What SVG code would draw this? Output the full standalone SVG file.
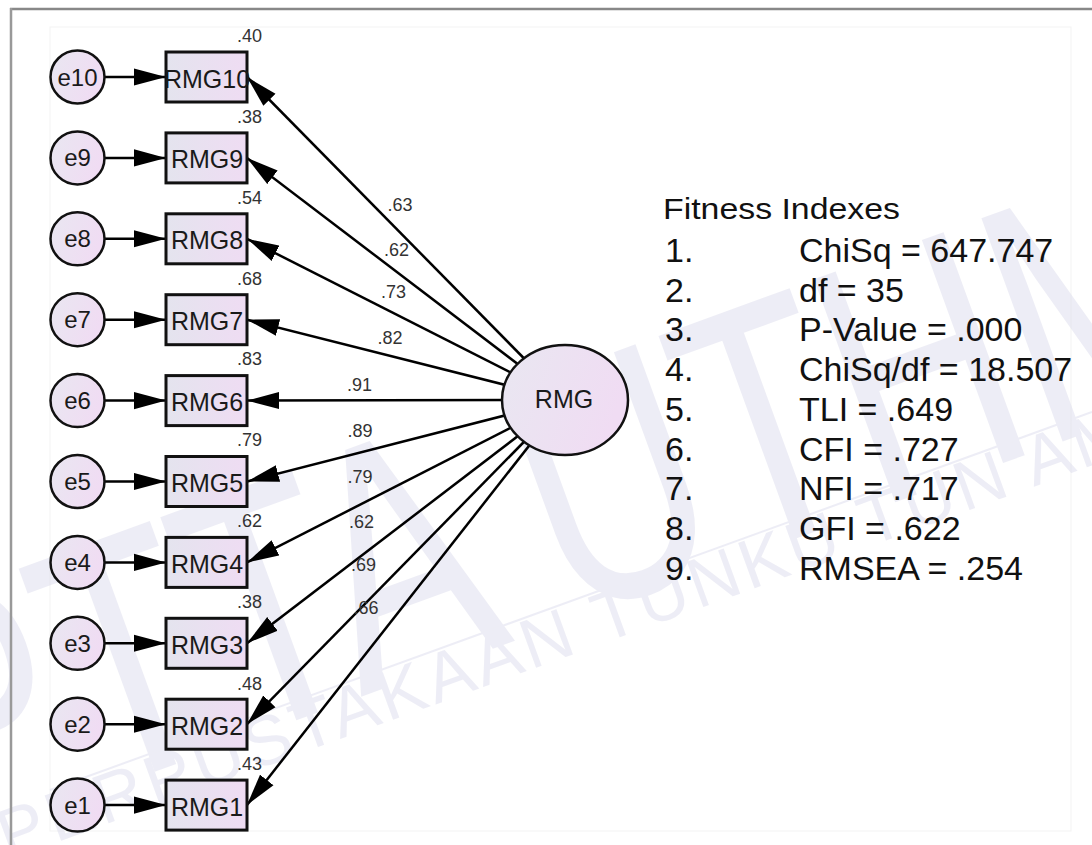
<svg xmlns="http://www.w3.org/2000/svg" width="1092" height="845" viewBox="0 0 1092 845">
<defs>
<linearGradient id="gBox" x1="0" y1="0" x2="1" y2="0">
<stop offset="0" stop-color="#e4e4ee"/>
<stop offset="1" stop-color="#efdcf3"/>
</linearGradient>
<linearGradient id="gCirc" x1="0" y1="0" x2="1" y2="0.3">
<stop offset="0" stop-color="#e9e7f1"/>
<stop offset="1" stop-color="#f0dcf3"/>
</linearGradient>
<marker id="ah" markerUnits="userSpaceOnUse" markerWidth="32" markerHeight="18" viewBox="0 0 30 16" refX="30" refY="8" orient="auto">
<path d="M0,0 L30,8 L0,16 Z" fill="#000"/>
</marker>
<style>
.wm{font-family:"Liberation Sans",Arial,sans-serif;fill:#d6d6ea;}
.box{fill:url(#gBox);stroke:#111;stroke-width:3;}
.circ{fill:url(#gCirc);stroke:#111;stroke-width:2.5;}
.lbl{font-family:"Liberation Sans",Arial,sans-serif;fill:#1a1a1a;text-anchor:middle;}
.num{font-family:"Liberation Sans",Arial,sans-serif;font-size:18px;fill:#333;}
.con line{stroke:#000;stroke-width:2.5;marker-end:url(#ah);}
.fit{font-family:"Liberation Sans",Arial,sans-serif;fill:#111;}
</style>
</defs>
<rect x="0" y="0" width="1092" height="845" fill="#fff"/>
<rect x="50" y="27" width="1021" height="804" fill="none" stroke="#f3f3f3" stroke-width="1"/>
<g id="watermark" opacity="0.42">
<text class="wm" font-size="230" transform="translate(-60,850) rotate(-20) scale(1,1.5)" textLength="1380" lengthAdjust="spacingAndGlyphs">PTTA UTHM</text>
<text class="wm" font-size="70" letter-spacing="4" transform="translate(8,860) rotate(-20)">PERPUSTAKAAN TUNKU TUN AMINAH</text>
<line x1="50" y1="790" x2="1092" y2="412" stroke="#d6d6ea" stroke-width="2"/>
</g>
<g id="frame">
<line x1="10" y1="9" x2="1092" y2="9" stroke="#888" stroke-width="2.5"/>
<line x1="11" y1="8" x2="11" y2="845" stroke="#999" stroke-width="2.5"/>
</g>
<g id="connectors" class="con">
<line x1="105" y1="77" x2="166" y2="77"/>
<line x1="105" y1="157.9" x2="166" y2="157.9"/>
<line x1="105" y1="238.8" x2="166" y2="238.8"/>
<line x1="105" y1="319.7" x2="166" y2="319.7"/>
<line x1="105" y1="400.6" x2="166" y2="400.6"/>
<line x1="105" y1="481.5" x2="166" y2="481.5"/>
<line x1="105" y1="562.4" x2="166" y2="562.4"/>
<line x1="105" y1="643.3" x2="166" y2="643.3"/>
<line x1="105" y1="724.2" x2="166" y2="724.2"/>
<line x1="105" y1="805.1" x2="166" y2="805.1"/>
<line x1="565" y1="400" x2="247" y2="77"/>
<line x1="565" y1="400" x2="247" y2="157.9"/>
<line x1="565" y1="400" x2="247" y2="238.8"/>
<line x1="565" y1="400" x2="247" y2="319.7"/>
<line x1="565" y1="400" x2="247" y2="400.6"/>
<line x1="565" y1="400" x2="247" y2="481.5"/>
<line x1="565" y1="400" x2="247" y2="562.4"/>
<line x1="565" y1="400" x2="247" y2="643.3"/>
<line x1="565" y1="400" x2="247" y2="724.2"/>
<line x1="565" y1="400" x2="247" y2="805.1"/>
</g>
<g id="loadings" class="num" text-anchor="middle">
<text x="400" y="211">.63</text>
<text x="396.5" y="256">.62</text>
<text x="393.5" y="298">.73</text>
<text x="390" y="344">.82</text>
<text x="359.5" y="391">.91</text>
<text x="360" y="437">.89</text>
<text x="360" y="483">.79</text>
<text x="361.5" y="528">.62</text>
<text x="363.5" y="571">.69</text>
<text x="366" y="614">.66</text>
</g>
<g id="RMG">
<ellipse class="circ" cx="565" cy="400" rx="63" ry="55"/>
<text class="lbl" x="564" y="408" font-size="25">RMG</text>
</g>
<g id="n10"><ellipse class="circ" cx="77.5" cy="77" rx="27" ry="26.5"/><text class="lbl" x="77.5" y="85.5" font-size="24">e10</text><rect class="box" x="166" y="52" width="81" height="50"/><text class="lbl" x="207" y="87.5" font-size="25">RMG10</text><text class="num" x="262" y="42" text-anchor="end">.40</text></g>
<g id="n9"><ellipse class="circ" cx="77.5" cy="157.9" rx="27" ry="26.5"/><text class="lbl" x="77.5" y="166.4" font-size="24">e9</text><rect class="box" x="166" y="132.9" width="81" height="50"/><text class="lbl" x="207" y="168.4" font-size="25">RMG9</text><text class="num" x="262" y="122.5" text-anchor="end">.38</text></g>
<g id="n8"><ellipse class="circ" cx="77.5" cy="238.8" rx="27" ry="26.5"/><text class="lbl" x="77.5" y="247.3" font-size="24">e8</text><rect class="box" x="166" y="213.8" width="81" height="50"/><text class="lbl" x="207" y="249.3" font-size="25">RMG8</text><text class="num" x="262" y="203.5" text-anchor="end">.54</text></g>
<g id="n7"><ellipse class="circ" cx="77.5" cy="319.7" rx="27" ry="26.5"/><text class="lbl" x="77.5" y="328.2" font-size="24">e7</text><rect class="box" x="166" y="294.7" width="81" height="50"/><text class="lbl" x="207" y="330.2" font-size="25">RMG7</text><text class="num" x="262" y="284.5" text-anchor="end">.68</text></g>
<g id="n6"><ellipse class="circ" cx="77.5" cy="400.6" rx="27" ry="26.5"/><text class="lbl" x="77.5" y="409.1" font-size="24">e6</text><rect class="box" x="166" y="375.6" width="81" height="50"/><text class="lbl" x="207" y="411.1" font-size="25">RMG6</text><text class="num" x="262" y="365" text-anchor="end">.83</text></g>
<g id="n5"><ellipse class="circ" cx="77.5" cy="481.5" rx="27" ry="26.5"/><text class="lbl" x="77.5" y="490" font-size="24">e5</text><rect class="box" x="166" y="456.5" width="81" height="50"/><text class="lbl" x="207" y="492" font-size="25">RMG5</text><text class="num" x="262" y="446" text-anchor="end">.79</text></g>
<g id="n4"><ellipse class="circ" cx="77.5" cy="562.4" rx="27" ry="26.5"/><text class="lbl" x="77.5" y="570.9" font-size="24">e4</text><rect class="box" x="166" y="537.4" width="81" height="50"/><text class="lbl" x="207" y="572.9" font-size="25">RMG4</text><text class="num" x="262" y="527" text-anchor="end">.62</text></g>
<g id="n3"><ellipse class="circ" cx="77.5" cy="643.3" rx="27" ry="26.5"/><text class="lbl" x="77.5" y="651.8" font-size="24">e3</text><rect class="box" x="166" y="618.3" width="81" height="50"/><text class="lbl" x="207" y="653.8" font-size="25">RMG3</text><text class="num" x="262" y="608" text-anchor="end">.38</text></g>
<g id="n2"><ellipse class="circ" cx="77.5" cy="724.2" rx="27" ry="26.5"/><text class="lbl" x="77.5" y="732.7" font-size="24">e2</text><rect class="box" x="166" y="699.2" width="81" height="50"/><text class="lbl" x="207" y="734.7" font-size="25">RMG2</text><text class="num" x="262" y="689.5" text-anchor="end">.48</text></g>
<g id="n1"><ellipse class="circ" cx="77.5" cy="805.1" rx="27" ry="26.5"/><text class="lbl" x="77.5" y="813.6" font-size="24">e1</text><rect class="box" x="166" y="780.1" width="81" height="50"/><text class="lbl" x="207" y="815.6" font-size="25">RMG1</text><text class="num" x="262" y="770" text-anchor="end">.43</text></g>
<g id="fitness" class="fit" font-size="34">
<text x="663" y="219" font-size="30" textLength="237" lengthAdjust="spacingAndGlyphs">Fitness Indexes</text>
<text x="665" y="262">1.</text><text x="799" y="262">ChiSq = 647.747</text>
<text x="665" y="301.7">2.</text><text x="799" y="301.7">df = 35</text>
<text x="665" y="341.4">3.</text><text x="799" y="341.4">P-Value = .000</text>
<text x="665" y="381.1">4.</text><text x="799" y="381.1">ChiSq/df = 18.507</text>
<text x="665" y="420.8">5.</text><text x="799" y="420.8">TLI = .649</text>
<text x="665" y="460.5">6.</text><text x="799" y="460.5">CFI = .727</text>
<text x="665" y="500.2">7.</text><text x="799" y="500.2">NFI = .717</text>
<text x="665" y="539.9">8.</text><text x="799" y="539.9">GFI = .622</text>
<text x="665" y="579.6">9.</text><text x="799" y="579.6">RMSEA = .254</text>
</g>
</svg>
